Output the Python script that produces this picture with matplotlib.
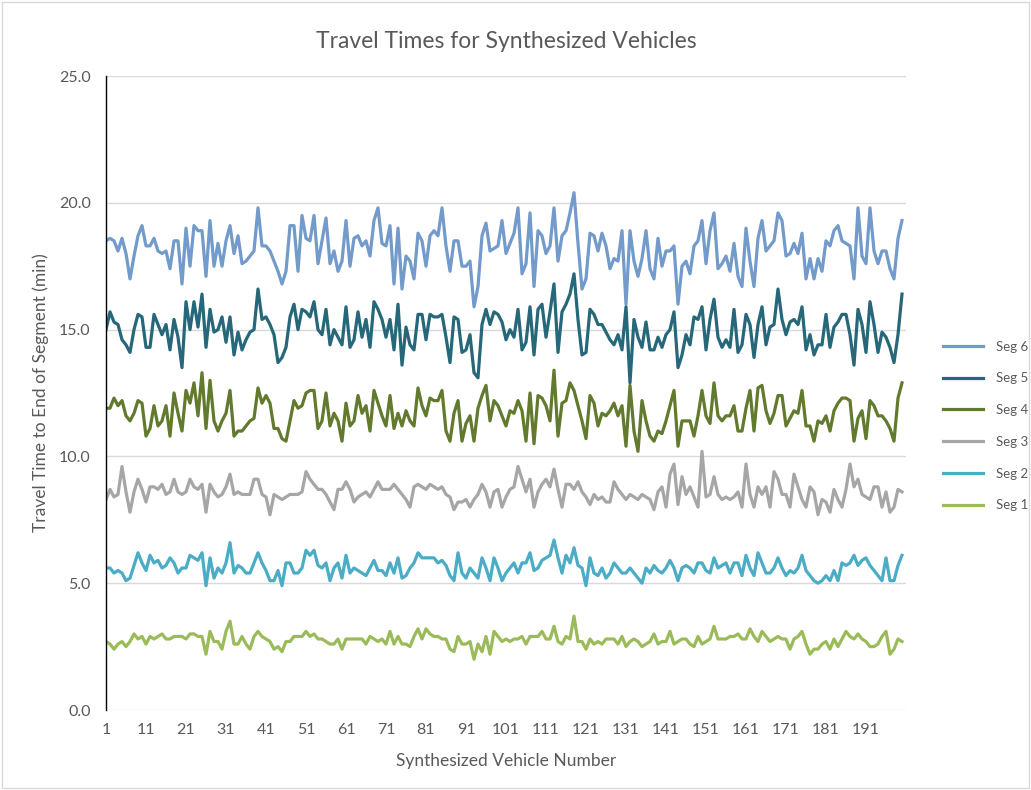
### travel times chart for the synthesized vehicles
import matplotlib
matplotlib.use('Agg')
import matplotlib.pyplot as plt
from matplotlib.patches import Rectangle

# vehicle numbers 1..200
vehicles = list(range(1, 201))

seg6 = [18.5, 18.6, 18.5, 18.1, 18.6, 18.0, 17.0, 17.9, 18.7, 19.1,
        18.3, 18.3, 18.6, 18.1, 18.0, 18.1, 17.4, 18.5, 18.5, 16.8,
        19.0, 17.5, 19.1, 18.9, 18.9, 17.1, 19.3, 17.5, 18.4, 17.5,
        18.5, 19.1, 18.0, 18.7, 17.6, 17.7, 17.9, 18.1, 19.8, 18.3,
        18.3, 18.1, 17.7, 17.3, 16.8, 17.3, 19.1, 19.1, 17.3, 19.5,
        18.6, 18.5, 19.5, 17.6, 18.5, 19.4, 17.6, 18.1, 17.3, 17.7,
        19.3, 17.5, 18.6, 18.7, 18.3, 18.5, 17.9, 19.3, 19.8, 18.4,
        18.3, 19.1, 16.8, 19.0, 16.6, 17.9, 17.7, 17.0, 18.8, 18.5,
        17.5, 18.7, 18.9, 18.7, 19.8, 18.3, 17.3, 18.5, 18.5, 17.5,
        17.5, 17.7, 15.9, 16.7, 18.7, 19.2, 18.1, 18.2, 18.3, 19.3,
        18.0, 18.4, 18.8, 19.8, 17.2, 17.6, 19.6, 16.7, 18.9, 18.7,
        18.0, 18.3, 19.8, 17.7, 18.7, 18.9, 19.6, 20.4, 18.4, 16.6,
        17.0, 18.8, 18.7, 18.1, 18.8, 18.3, 17.4, 17.8, 17.7, 18.9,
        16.0, 18.9, 17.7, 17.1, 17.8, 18.9, 17.4, 17.0, 18.6, 17.5,
        18.1, 18.1, 18.3, 16.0, 17.5, 17.7, 17.2, 18.3, 18.5, 19.3,
        17.6, 18.9, 19.6, 17.4, 17.6, 17.9, 17.3, 18.4, 17.1, 16.7,
        19.0, 17.7, 16.7, 18.6, 19.3, 18.1, 18.3, 18.5, 19.6, 19.3,
        17.9, 18.0, 18.4, 18.0, 18.8, 17.0, 17.8, 17.0, 17.8, 17.3,
        18.5, 18.3, 18.9, 19.1, 18.5, 18.4, 18.3, 17.0, 19.8, 17.9,
        17.6, 19.8, 18.1, 17.6, 18.1, 18.1, 17.4, 17.0, 18.6, 19.3]

seg5 = [15.0, 15.7, 15.3, 15.2, 14.6, 14.4, 14.1, 15.0, 15.6, 15.5,
        14.3, 14.3, 15.6, 15.2, 14.8, 15.2, 14.2, 15.4, 14.7, 13.5,
        16.1, 15.0, 16.1, 15.1, 16.4, 14.3, 15.8, 14.9, 15.0, 15.5,
        14.5, 15.5, 14.0, 14.9, 14.2, 14.6, 14.9, 15.0, 16.6, 15.4,
        15.5, 15.2, 14.8, 13.7, 13.9, 14.3, 15.5, 16.0, 15.0, 15.8,
        15.7, 15.5, 16.1, 15.0, 14.8, 15.8, 14.4, 15.0, 14.7, 14.4,
        15.9, 14.3, 14.6, 15.7, 14.7, 15.4, 14.3, 16.1, 15.8, 15.4,
        14.7, 15.4, 14.2, 16.0, 13.6, 15.1, 14.4, 14.2, 15.6, 15.6,
        14.6, 15.6, 15.5, 15.5, 15.6, 14.7, 13.7, 15.5, 15.4, 14.1,
        14.2, 14.8, 13.3, 13.1, 15.2, 15.8, 15.2, 15.7, 15.6, 15.3,
        14.6, 15.0, 14.7, 15.8, 14.2, 14.5, 15.9, 14.0, 15.8, 16.0,
        14.7, 15.7, 16.8, 14.1, 15.7, 16.0, 16.4, 17.2, 15.4, 14.0,
        14.1, 15.8, 15.6, 15.2, 15.2, 14.9, 14.6, 14.4, 14.8, 14.2,
        15.9, 12.9, 15.4, 14.7, 14.3, 15.3, 14.2, 14.2, 14.7, 14.3,
        14.8, 15.0, 15.7, 13.5, 14.0, 14.8, 14.4, 15.5, 15.4, 15.9,
        14.2, 15.4, 16.2, 14.7, 14.3, 14.6, 14.3, 15.8, 14.1, 14.4,
        15.6, 15.2, 13.9, 15.2, 15.9, 14.4, 15.1, 15.2, 16.6, 15.4,
        14.8, 15.3, 15.4, 15.2, 15.9, 14.2, 14.8, 14.0, 14.4, 14.4,
        15.6, 14.3, 15.1, 15.3, 15.6, 15.6, 14.8, 13.6, 15.8, 15.2,
        14.1, 16.1, 15.2, 14.1, 14.9, 14.7, 14.3, 13.7, 14.8, 16.4]

seg4 = [11.9, 11.9, 12.3, 12.0, 12.2, 11.6, 11.4, 11.7, 12.2, 12.1,
        10.8, 11.1, 12.0, 11.2, 11.4, 12.0, 10.8, 12.5, 11.7, 11.0,
        12.6, 12.1, 12.9, 11.6, 13.3, 11.1, 13.0, 11.4, 11.0, 11.4,
        11.7, 12.6, 10.8, 11.0, 11.0, 11.2, 11.4, 11.5, 12.7, 12.1,
        12.4, 12.1, 11.1, 11.1, 10.7, 10.6, 11.4, 12.2, 11.9, 12.0,
        12.5, 12.6, 12.6, 11.1, 11.4, 12.5, 11.2, 11.7, 11.4, 10.6,
        12.1, 11.2, 11.4, 12.4, 11.7, 12.0, 11.0, 12.6, 12.1, 11.6,
        11.2, 12.4, 11.1, 11.7, 11.2, 11.8, 11.4, 11.2, 12.7, 12.0,
        11.6, 12.3, 12.2, 12.2, 12.6, 11.0, 10.6, 11.7, 12.2, 10.6,
        11.3, 11.6, 10.6, 11.9, 12.4, 12.8, 11.4, 12.2, 12.0, 11.6,
        11.2, 11.8, 11.7, 12.2, 11.8, 10.6, 12.5, 10.5, 12.4, 12.3,
        12.0, 11.4, 13.4, 10.8, 12.1, 12.2, 12.9, 12.6, 12.0, 11.4,
        10.7, 12.4, 12.1, 11.2, 11.7, 11.6, 11.8, 12.1, 11.6, 12.0,
        10.4, 12.8, 11.0, 10.2, 12.2, 11.4, 10.8, 10.6, 11.0, 10.9,
        11.4, 12.0, 12.6, 10.4, 11.4, 11.4, 11.4, 10.8, 11.6, 12.6,
        11.6, 11.3, 12.9, 11.6, 11.4, 11.6, 11.6, 12.0, 11.0, 11.0,
        11.9, 12.6, 11.0, 12.7, 12.8, 11.8, 11.3, 11.7, 12.4, 12.4,
        11.2, 11.5, 11.8, 11.7, 12.6, 11.2, 11.2, 10.6, 11.4, 11.3,
        11.6, 11.0, 11.8, 12.1, 12.3, 12.3, 12.2, 10.6, 11.5, 11.8,
        10.7, 12.2, 12.0, 11.6, 11.6, 11.4, 11.1, 10.6, 12.3, 12.9]

seg3 = [8.3, 8.7, 8.4, 8.5, 9.6, 8.6, 7.8, 8.6, 9.1, 8.7,
        8.2, 8.8, 8.8, 8.7, 8.9, 8.5, 8.6, 9.1, 8.6, 8.5,
        8.6, 9.1, 8.8, 8.7, 8.9, 7.8, 8.9, 8.6, 8.4, 8.5,
        8.8, 9.3, 8.5, 8.6, 8.5, 8.5, 8.5, 9.1, 9.1, 8.5,
        8.4, 7.7, 8.5, 8.4, 8.3, 8.4, 8.5, 8.5, 8.5, 8.6,
        9.4, 9.1, 8.9, 8.7, 8.7, 8.5, 8.2, 7.9, 8.7, 8.7,
        9.0, 8.7, 8.2, 8.4, 8.5, 8.6, 8.4, 8.7, 9.0, 8.7,
        8.7, 8.7, 8.9, 8.7, 8.5, 8.3, 8.0, 8.8, 8.9, 8.8,
        8.7, 8.9, 8.8, 8.7, 8.8, 8.5, 8.4, 7.9, 8.2, 8.2,
        8.3, 8.0, 8.3, 8.5, 8.9, 8.6, 8.0, 8.6, 8.7, 8.0,
        8.4, 8.7, 8.8, 9.6, 9.1, 8.6, 9.1, 8.0, 8.6, 8.9,
        9.1, 8.8, 9.5, 8.7, 8.0, 8.9, 8.9, 8.7, 9.0, 8.6,
        8.4, 8.1, 8.5, 8.3, 8.4, 8.2, 8.2, 9.0, 8.7, 8.5,
        8.3, 8.5, 8.4, 8.3, 8.5, 8.4, 8.3, 7.9, 8.6, 8.8,
        8.0, 9.3, 9.7, 8.1, 9.2, 8.5, 8.8, 8.4, 8.0, 10.2,
        8.4, 8.5, 9.2, 8.5, 8.3, 8.4, 8.3, 8.4, 8.6, 8.0,
        9.7, 8.5, 8.0, 8.8, 8.5, 8.8, 8.0, 9.4, 9.1, 8.5,
        8.5, 8.0, 9.3, 8.8, 8.3, 8.0, 8.8, 8.6, 7.7, 8.3,
        8.2, 7.8, 8.7, 8.3, 8.0, 8.7, 9.7, 8.8, 9.1, 8.5,
        8.4, 8.3, 8.8, 8.8, 8.0, 8.6, 7.8, 8.0, 8.7, 8.6]

seg2 = [5.6, 5.6, 5.4, 5.5, 5.4, 5.1, 5.2, 5.7, 6.2, 5.8,
        5.5, 6.1, 5.8, 5.9, 5.6, 5.7, 6.0, 5.8, 5.4, 5.6,
        5.6, 6.1, 6.0, 5.9, 6.2, 4.9, 6.0, 5.2, 5.6, 5.4,
        5.8, 6.6, 5.4, 5.7, 5.6, 5.4, 5.4, 5.8, 6.2, 5.8,
        5.5, 5.1, 5.1, 5.5, 4.9, 5.8, 5.8, 5.4, 5.4, 5.6,
        6.3, 6.1, 6.3, 5.7, 5.6, 5.8, 5.1, 5.6, 5.8, 5.2,
        6.1, 5.4, 5.6, 5.5, 5.4, 5.3, 5.6, 5.9, 5.5, 5.5,
        5.3, 5.8, 5.4, 6.0, 5.2, 5.3, 5.6, 5.8, 6.2, 6.0,
        6.0, 6.0, 6.0, 5.8, 5.9, 5.7, 5.3, 5.1, 6.2, 5.4,
        5.2, 5.6, 5.4, 5.2, 6.0, 5.6, 5.1, 6.0, 5.6, 5.1,
        5.4, 5.6, 5.8, 5.4, 5.8, 5.8, 6.2, 5.5, 5.6, 5.9,
        6.0, 6.1, 6.7, 6.0, 5.4, 6.1, 5.8, 6.4, 5.7, 5.6,
        4.9, 6.0, 5.4, 5.3, 5.6, 5.2, 5.4, 5.8, 5.6, 5.4,
        5.4, 5.6, 5.4, 5.2, 5.0, 5.6, 5.4, 5.7, 5.5, 5.4,
        5.6, 5.9, 5.6, 5.1, 5.6, 5.7, 5.6, 5.4, 5.8, 5.8,
        5.5, 5.4, 6.0, 5.6, 5.7, 5.8, 5.4, 5.8, 5.8, 5.3,
        6.1, 5.6, 5.3, 6.2, 5.8, 5.4, 5.4, 5.6, 6.0, 5.6,
        5.3, 5.5, 5.4, 5.6, 6.1, 5.5, 5.3, 5.1, 5.0, 5.1,
        5.3, 5.1, 5.5, 5.1, 5.8, 5.7, 5.8, 6.1, 5.7, 5.9,
        6.0, 5.7, 5.5, 5.3, 5.1, 6.0, 5.1, 5.1, 5.7, 6.1]

seg1 = [2.7, 2.6, 2.4, 2.6, 2.7, 2.5, 2.7, 3.0, 2.8, 2.9,
        2.6, 2.9, 2.8, 2.9, 3.0, 2.8, 2.8, 2.9, 2.9, 2.9,
        2.8, 3.0, 3.0, 2.9, 2.9, 2.2, 3.1, 2.7, 2.7, 2.4,
        3.1, 3.5, 2.6, 2.6, 2.9, 2.6, 2.4, 2.9, 3.1, 2.9,
        2.8, 2.7, 2.4, 2.5, 2.3, 2.7, 2.7, 2.9, 2.9, 2.9,
        3.1, 2.9, 3.0, 2.8, 2.8, 2.7, 2.6, 2.6, 2.8, 2.4,
        2.8, 2.8, 2.8, 2.8, 2.8, 2.6, 2.9, 2.8, 2.7, 2.8,
        2.6, 3.1, 2.6, 2.9, 2.6, 2.6, 2.5, 2.9, 3.2, 2.8,
        3.2, 3.0, 2.9, 2.9, 2.8, 2.8, 2.4, 2.3, 2.9, 2.6,
        2.6, 2.7, 2.0, 2.6, 2.3, 2.9, 2.2, 3.1, 2.9, 2.7,
        2.8, 2.7, 2.8, 2.8, 2.9, 2.6, 2.9, 2.9, 2.9, 3.1,
        2.8, 2.8, 3.3, 2.7, 2.6, 2.9, 2.8, 3.7, 2.7, 2.7,
        2.4, 2.8, 2.6, 2.7, 2.6, 2.8, 2.8, 2.8, 2.6, 2.9,
        2.5, 2.7, 2.8, 2.7, 2.5, 2.6, 2.7, 3.0, 2.6, 2.7,
        2.7, 3.1, 2.6, 2.7, 2.8, 2.8, 2.6, 2.5, 2.9, 2.6,
        2.7, 2.8, 3.3, 2.8, 2.8, 2.8, 2.9, 2.9, 3.0, 2.8,
        2.8, 3.2, 2.9, 2.7, 3.1, 2.9, 2.7, 2.8, 2.9, 2.8,
        2.8, 2.4, 2.8, 2.9, 3.1, 2.6, 2.2, 2.4, 2.4, 2.6,
        2.7, 2.4, 2.8, 2.5, 2.8, 3.1, 2.9, 2.8, 3.0, 2.8,
        2.7, 2.5, 2.5, 2.6, 2.9, 3.1, 2.2, 2.4, 2.8, 2.7]

series_names = ['Seg 6', 'Seg 5', 'Seg 4', 'Seg 3', 'Seg 2', 'Seg 1']
series_colors = ['#729aca', '#26687a', '#627a2e', '#a6a6a6', '#4bacc6', '#9bbb59']
x_tick_labels = [str(v) for v in range(1, 192, 10)]

plt.rcParams['font.family'] = ['Lato', 'DejaVu Sans']
text_color = '#595959'

fig = plt.figure(figsize=(10.31, 7.9), dpi=100)
ax = fig.add_axes([106 / 1031, 1 - 710 / 790, 800 / 1031, 634 / 790])

for name, values, color in zip(series_names, [seg6, seg5, seg4, seg3, seg2, seg1], series_colors):
    ax.plot(vehicles, values, color=color, lw=2.3, label=name, solid_joinstyle='round')

ax.set_xlim(1, 201)
ax.set_ylim(0, 25)
ax.set_yticks([0, 5, 10, 15, 20, 25])
ax.set_yticklabels(['%.1f' % v for v in [0, 5, 10, 15, 20, 25]])
ax.set_xticks(list(range(1, 192, 10)))
ax.set_xticklabels(x_tick_labels)
ax.tick_params(axis='both', length=0, labelsize=11.5, labelcolor=text_color)
ax.tick_params(axis='y', pad=11)
ax.tick_params(axis='x', pad=9)

# light horizontal grid, black value axis
ax.grid(axis='y', color='#d9d9d9', lw=1)
ax.set_axisbelow(True)
for side in ['top', 'right', 'bottom']:
    ax.spines[side].set_visible(False)
ax.spines['left'].set_color('#000000')
ax.spines['left'].set_linewidth(1)

ax.set_title('Travel Times for Synthesized Vehicles', fontsize=16.5, color=text_color, pad=20)
ax.set_ylabel('Travel Time to End of Segment (min)', fontsize=12.5, color=text_color, labelpad=7)
ax.set_xlabel('Synthesized Vehicle Number', fontsize=12.5, color=text_color, labelpad=12)

# legend sits in the strip right of the plot area
leg = fig.legend(loc='center left', bbox_to_anchor=(943 / 1031, 1 - 426 / 790), frameon=False,
                 fontsize=9.5, handlelength=3.0, labelspacing=1.5, handletextpad=1.05,
                 borderaxespad=0, borderpad=0)
for t in leg.get_texts():
    t.set_color(text_color)

# chart area border
fig.patches.append(Rectangle((0.002, 0.002), 0.996, 0.996, transform=fig.transFigure,
                             fill=False, edgecolor='#d9d9d9', lw=1))

fig.savefig('out.png', dpi=100)
